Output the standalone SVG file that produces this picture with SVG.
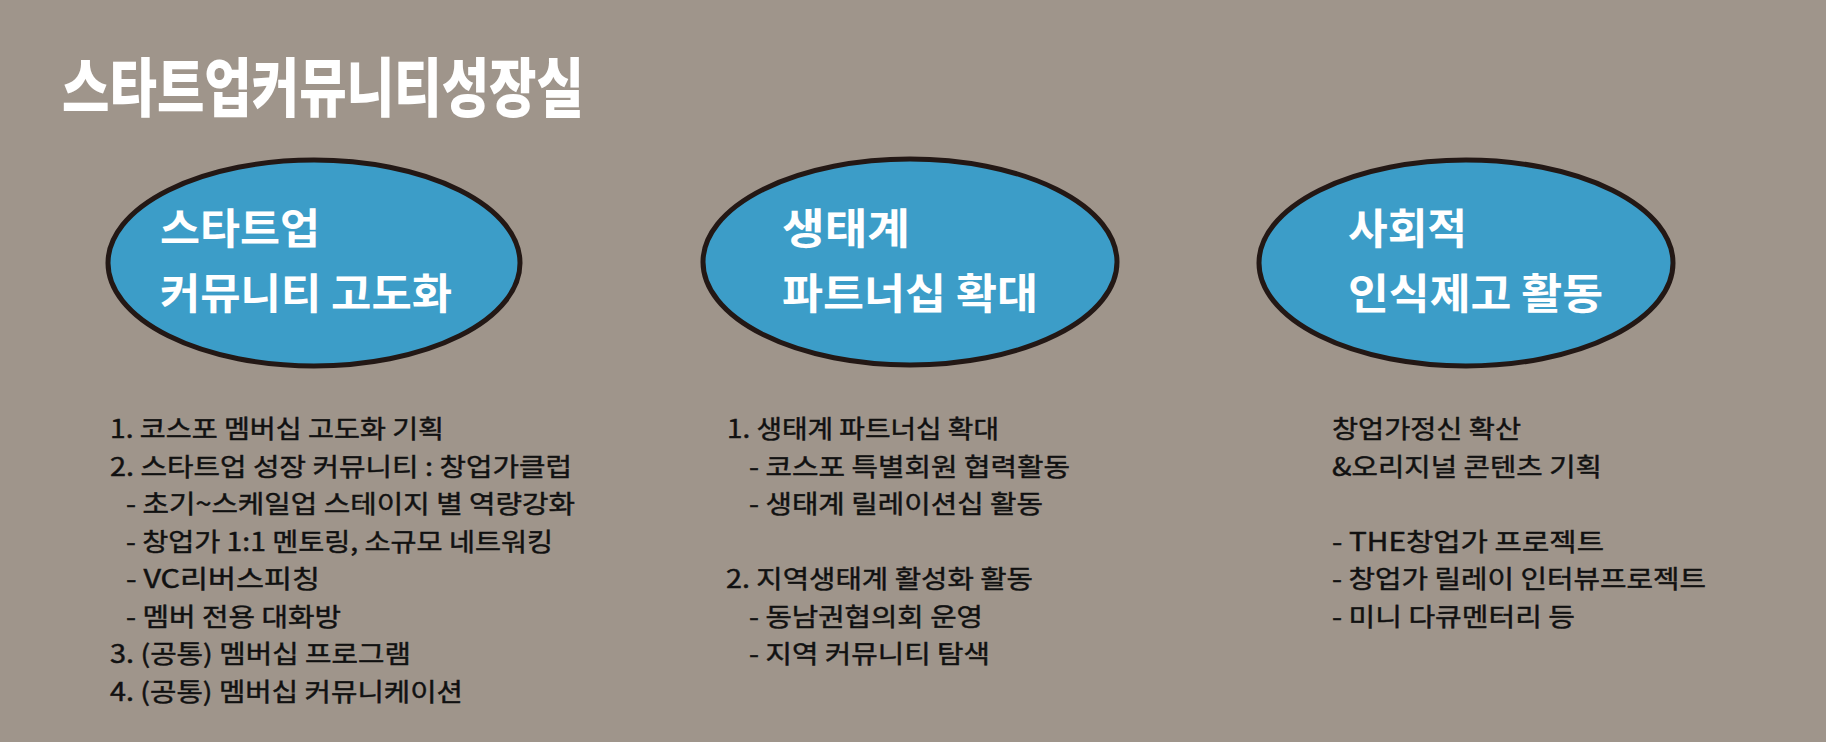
<svg xmlns="http://www.w3.org/2000/svg" width="1826" height="742" viewBox="0 0 1826 742">
<style>
.bg{fill:#9f958b}
.oval{fill:#3c9dc8;stroke:#231815;stroke-width:5}
.title{font-family:"Noto Sans CJK KR","Noto Sans",sans-serif;font-weight:900;font-size:64px;fill:#ffffff}
.head{font-family:"Noto Sans CJK KR","Noto Sans",sans-serif;font-weight:700;font-size:42px;fill:#ffffff}
.body{font-family:"Noto Sans CJK KR","Noto Sans",sans-serif;font-weight:400;font-size:25px;fill:#111111;stroke:#111111;stroke-width:0.45px}
</style>
<rect class="bg" x="0" y="0" width="1826" height="742"/>
<g id="title">
<text class="title" x="62" y="111" textLength="522" lengthAdjust="spacingAndGlyphs">스타트업커뮤니티성장실</text>
</g>
<g id="connectors"/>
<g id="node-1">
<ellipse class="oval" cx="314" cy="263" rx="206" ry="103"/>
<text class="head" x="160" y="244" textLength="160" lengthAdjust="spacingAndGlyphs">스타트업</text>
<text class="head" x="160" y="309" textLength="292" lengthAdjust="spacingAndGlyphs">커뮤니티 고도화</text>
</g>
<g id="node-2">
<ellipse class="oval" cx="910" cy="262" rx="207" ry="103"/>
<text class="head" x="782" y="244" textLength="128" lengthAdjust="spacingAndGlyphs">생태계</text>
<text class="head" x="782" y="309" textLength="256" lengthAdjust="spacingAndGlyphs">파트너십 확대</text>
</g>
<g id="node-3">
<ellipse class="oval" cx="1466" cy="263" rx="207" ry="103"/>
<text class="head" x="1348" y="244" textLength="119" lengthAdjust="spacingAndGlyphs">사회적</text>
<text class="head" x="1348" y="309" textLength="255" lengthAdjust="spacingAndGlyphs">인식제고 활동</text>
</g>
<g id="list-1">
<text class="body" x="110" y="438" textLength="334" lengthAdjust="spacingAndGlyphs">1. 코스포 멤버십 고도화 기획</text>
<text class="body" x="110" y="476" textLength="462" lengthAdjust="spacingAndGlyphs">2. 스타트업 성장 커뮤니티 : 창업가클럽</text>
<text class="body" x="126" y="513" textLength="449" lengthAdjust="spacingAndGlyphs">- 초기~스케일업 스테이지 별 역량강화</text>
<text class="body" x="126" y="551" textLength="427" lengthAdjust="spacingAndGlyphs">- 창업가 1:1 멘토링, 소규모 네트워킹</text>
<text class="body" x="126" y="588" textLength="194" lengthAdjust="spacingAndGlyphs">- VC리버스피칭</text>
<text class="body" x="126" y="626" textLength="215" lengthAdjust="spacingAndGlyphs">- 멤버 전용 대화방</text>
<text class="body" x="110" y="663" textLength="301" lengthAdjust="spacingAndGlyphs">3. (공통) 멤버십 프로그램</text>
<text class="body" x="110" y="701" textLength="353" lengthAdjust="spacingAndGlyphs">4. (공통) 멤버십 커뮤니케이션</text>
</g>
<g id="list-2">
<text class="body" x="727" y="438" textLength="272" lengthAdjust="spacingAndGlyphs">1. 생태계 파트너십 확대</text>
<text class="body" x="749" y="476" textLength="321" lengthAdjust="spacingAndGlyphs">- 코스포 특별회원 협력활동</text>
<text class="body" x="749" y="513" textLength="294" lengthAdjust="spacingAndGlyphs">- 생태계 릴레이션십 활동</text>
<text class="body" x="726" y="588" textLength="307" lengthAdjust="spacingAndGlyphs">2. 지역생태계 활성화 활동</text>
<text class="body" x="749" y="626" textLength="234" lengthAdjust="spacingAndGlyphs">- 동남권협의회 운영</text>
<text class="body" x="749" y="663" textLength="241" lengthAdjust="spacingAndGlyphs">- 지역 커뮤니티 탐색</text>
</g>
<g id="list-3">
<text class="body" x="1332" y="438" textLength="189" lengthAdjust="spacingAndGlyphs">창업가정신 확산</text>
<text class="body" x="1332" y="476" textLength="270" lengthAdjust="spacingAndGlyphs">&amp;오리지널 콘텐츠 기획</text>
<text class="body" x="1332" y="551" textLength="272" lengthAdjust="spacingAndGlyphs">- THE창업가 프로젝트</text>
<text class="body" x="1332" y="588" textLength="374" lengthAdjust="spacingAndGlyphs">- 창업가 릴레이 인터뷰프로젝트</text>
<text class="body" x="1332" y="626" textLength="243" lengthAdjust="spacingAndGlyphs">- 미니 다큐멘터리 등</text>
</g>
</svg>
